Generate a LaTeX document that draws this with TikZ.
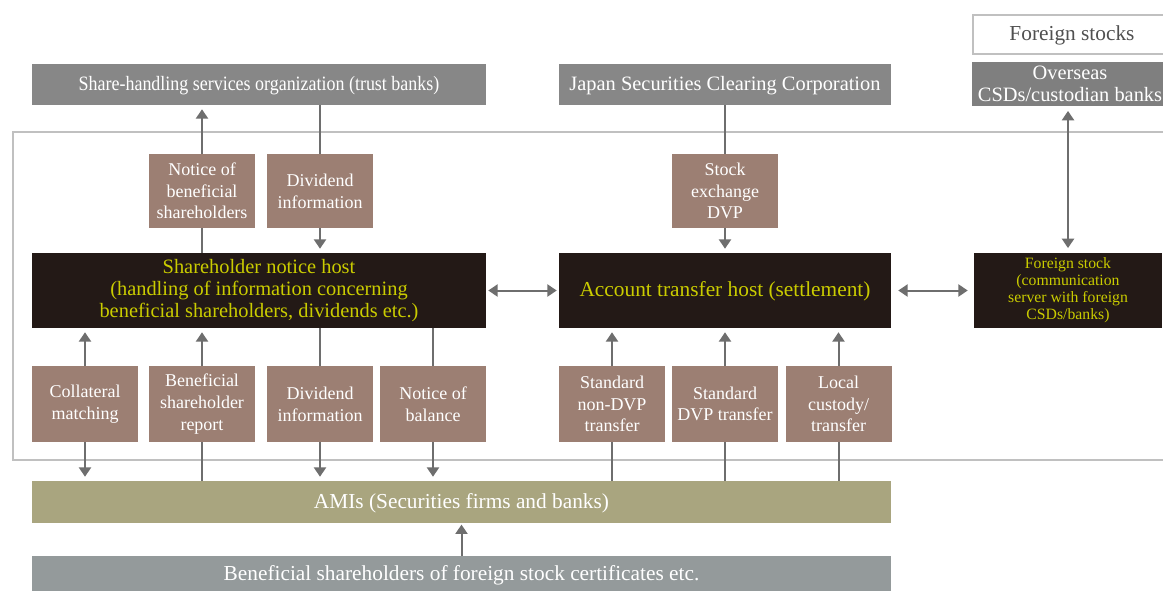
\documentclass[tikz,border=0pt]{standalone}
\usepackage{graphicx}
\usepackage{fontspec}
\setmainfont{Liberation Serif}
\usetikzlibrary{arrows.meta}
\definecolor{boxgray}{HTML}{878787}
\definecolor{ovgray}{HTML}{7F7F7F}
\definecolor{brownfill}{HTML}{9C7F73}
\definecolor{darkfill}{HTML}{231916}
\definecolor{yelltext}{HTML}{CACC00}
\definecolor{amicol}{HTML}{A9A57F}
\definecolor{bsfcol}{HTML}{949A9B}
\definecolor{framecol}{HTML}{C0C0C0}
\definecolor{arrowcol}{HTML}{6E6E6E}
\definecolor{fstext}{HTML}{505050}
\tikzset{
  base/.style={inner sep=0pt, align=center, font=\fontsize{13.5}{16.3}\selectfont},
  bigfont/.style={font=\fontsize{15.3}{16.5}\selectfont},
  hugefont/.style={font=\fontsize{16}{17}\selectfont},
  graybox/.style={base, fill=boxgray, text=white},
  smallbox/.style={base, fill=brownfill, text=white, minimum width=79.5pt, minimum height=56.25pt},
  hostbox/.style={base, fill=darkfill, text=yelltext, minimum height=56.25pt},
  conn/.style={draw=arrowcol, line width=1.5pt},
  tip/.tip={Triangle[length=7pt,width=9pt]},
  arr/.style={conn, -tip, shorten >=3pt},
  darr/.style={conn, tip-tip},
}
\begin{document}
\begin{tikzpicture}[x=0.75pt,y=-0.75pt]
\clip (0,0) rectangle (1163,590);
\fill[white] (0,0) rectangle (1163,590);
% frame
\draw[framecol, line width=1.5pt] (13,132) rectangle (1180,460);
% top boxes
\node[base, hugefont, draw=framecol, line width=1.5pt, fill=white, text=fstext, minimum width=148.5pt, minimum height=29.25pt, text depth=2pt] (fs) at (1072,34.5) {Foreign stocks};
\node[base, bigfont, fill=ovgray, text=white, minimum width=147pt, minimum height=33pt] (ov) at (1070,84) {Overseas\\CSDs/custodian banks};
\node[graybox, bigfont, minimum width=340.5pt, minimum height=30.75pt, text depth=2pt] (sh) at (259,84.5) {\scalebox{0.88}[1]{Share-handling services organization (trust banks)}};
\node[graybox, bigfont, minimum width=249pt, minimum height=30.75pt, text depth=2pt] (jscc) at (725,84.5) {Japan Securities Clearing Corporation};
% upper small boxes
\node[smallbox, minimum height=55.5pt] (nb) at (202,191) {Notice of\\beneficial\\shareholders};
\node[smallbox, minimum height=55.5pt] (dv1) at (320,191) {Dividend\\information};
\node[smallbox, minimum height=55.5pt] (sx) at (725,191) {Stock\\exchange\\DVP};
% hosts
\node[hostbox, bigfont, minimum width=340.5pt] (snh) at (259,290.5) {Shareholder notice host\\(handling of information concerning\\beneficial shareholders, dividends etc.)};
\node[hostbox, hugefont, minimum width=249pt, text depth=2pt] (ath) at (725,290.5) {Account transfer host (settlement)};
\node[hostbox, minimum width=141pt, font=\fontsize{11.8}{12.8}\selectfont] (fsh) at (1068,290.5) {Foreign stock\\(communication\\server with foreign\\CSDs/banks)};
% lower small boxes
\node[smallbox, minimum height=57pt] (col) at (85,404) {Collateral\\matching};
\node[smallbox, minimum height=57pt] (bsr) at (202,404) {Beneficial\\shareholder\\report};
\node[smallbox, minimum height=57pt] (dv2) at (320,404) {Dividend\\information};
\node[smallbox, minimum height=57pt] (nob) at (433,404) {Notice of\\balance};
\node[smallbox, minimum height=57pt] (nd) at (612,404) {Standard\\non-DVP\\transfer};
\node[smallbox, minimum height=57pt] (sd) at (725,404) {Standard\\DVP transfer};
\node[smallbox, minimum height=57pt] (lc) at (838.5,404) {Local\\custody/\\transfer};
% bottom bars
\node[base, hugefont, fill=amicol, text=white, minimum width=644.25pt, minimum height=31.5pt, text depth=2pt] (ami) at (461.5,502) {AMIs (Securities firms and banks)};
\node[base, hugefont, fill=bsfcol, text=white, minimum width=644.25pt, minimum height=27pt, text depth=2pt] (bsf) at (461.5,574) {Beneficial shareholders of foreign stock certificates etc.};
% connectors top
\draw[arr] (nb.north) -- (nb.north |- sh.south);
\draw[conn] (snh.north -| nb.south) -- (nb.south);
\draw[conn] (sh.south -| dv1.north) -- (dv1.north);
\draw[arr] (dv1.south) -- (dv1.south |- snh.north);
\draw[conn] (jscc.south -| sx.north) -- (sx.north);
\draw[arr] (sx.south) -- (sx.south |- ath.north);
\draw[darr, shorten <=3.5pt, shorten >=3.5pt] (fsh.north |- ov.south) -- (fsh.north);
% host links
\draw[darr, shorten <=1.5pt, shorten >=1.5pt] (snh.east) -- (ath.west);
\draw[darr, shorten <=5.25pt, shorten >=4.5pt] (ath.east) -- (fsh.west);
% connectors bottom
\draw[arr] (col.north) -- (col.north |- snh.south);
\draw[arr] (col.south) -- (col.south |- ami.north);
\draw[arr] (bsr.north) -- (bsr.north |- snh.south);
\draw[conn] (ami.north -| bsr.south) -- (bsr.south);
\draw[conn] (snh.south -| dv2.north) -- (dv2.north);
\draw[arr] (dv2.south) -- (dv2.south |- ami.north);
\draw[conn] (snh.south -| nob.north) -- (nob.north);
\draw[arr] (nob.south) -- (nob.south |- ami.north);
\draw[arr] (nd.north) -- (nd.north |- ath.south);
\draw[conn] (ami.north -| nd.south) -- (nd.south);
\draw[arr] (sd.north) -- (sd.north |- ath.south);
\draw[conn] (ami.north -| sd.south) -- (sd.south);
\draw[arr] (lc.north) -- (lc.north |- ath.south);
\draw[conn] (ami.north -| lc.south) -- (lc.south);
\draw[arr, shorten >=1pt] (bsf.north) -- (bsf.north |- ami.south);
\end{tikzpicture}
\end{document}
